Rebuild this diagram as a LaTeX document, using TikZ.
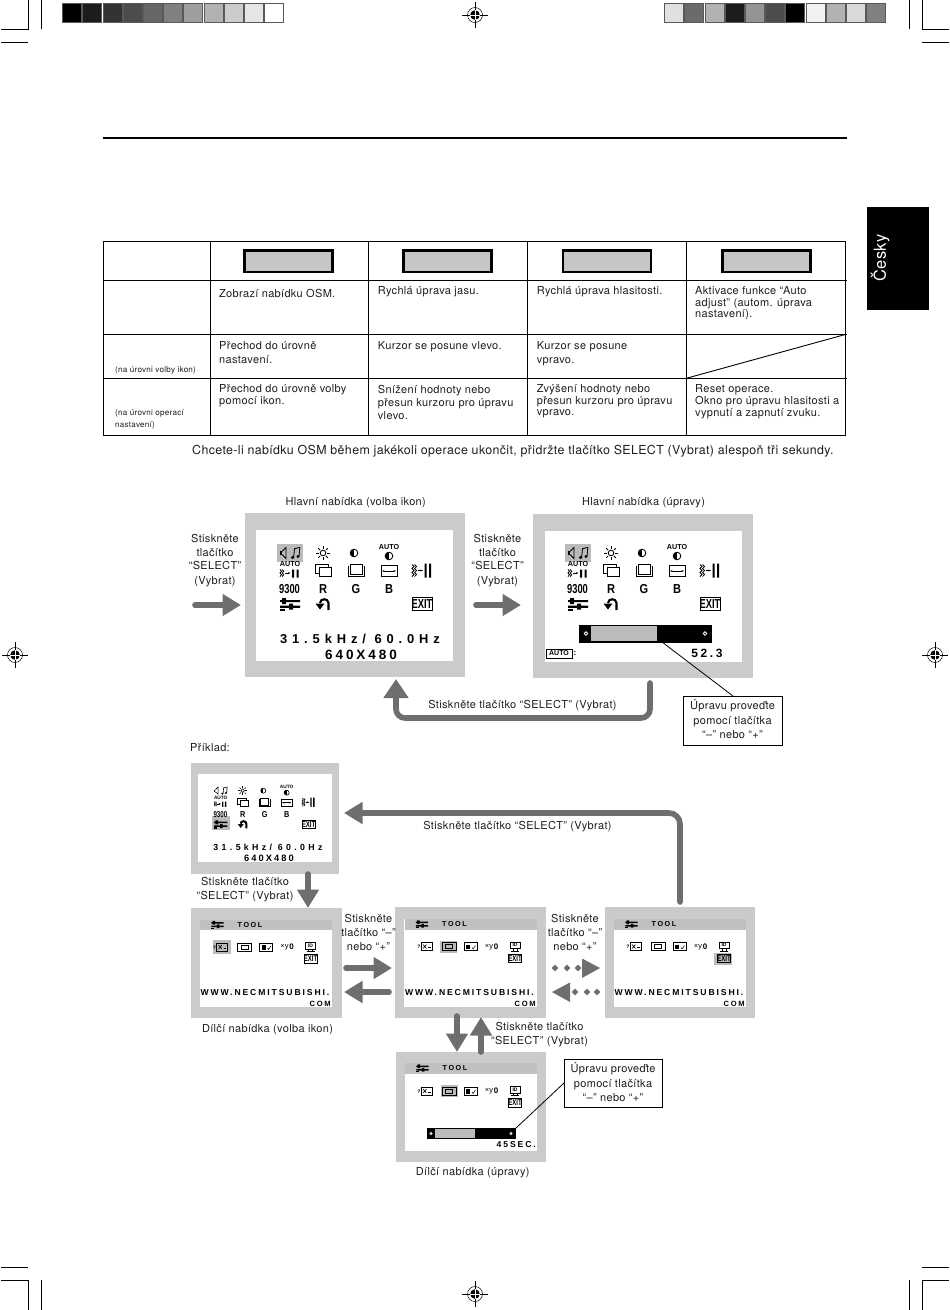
\documentclass[tikz,border=0pt]{standalone}
\usepackage{fontspec}
\setmainfont[LetterSpace=3]{TeX Gyre Heros}
\newfontfamily\lcd[LetterSpace=38]{Liberation Sans}
\newfontfamily\lcdw[LetterSpace=22]{Liberation Sans}
\newfontfamily\icf{Liberation Sans}
\usetikzlibrary{arrows.meta,fit}
\definecolor{frameg}{HTML}{CBCBCB}
\definecolor{hlg}{HTML}{BBBBBB}
\definecolor{arrg}{HTML}{6E6E6E}
\definecolor{btng}{HTML}{C6C6C6}
\definecolor{inkk}{HTML}{1E1E1E}
\tikzset{
 x=1pt,y=-1pt,
 panel/.style={fit={#1},fill=frameg,draw=none,inner sep=0pt},
 inpanel/.style={fit={#1},fill=white,draw=none,inner sep=0pt},
 bigarrow/.style={draw=arrg,line width=5.6pt,line cap=round,-{Triangle[length=18.5pt,width=21pt,fill=arrg]}},
 thin line/.style={draw=black,line width=.8pt},
 tcell/.style={anchor=west,inner sep=0pt,text=inkk,font=\fontsize{11}{12}\selectfont,text height=10pt,text depth=2.5pt},
 tsmall/.style={anchor=west,inner sep=0pt,text=inkk,font=\fontsize{8.1}{9}\selectfont,text height=8pt,text depth=2pt},
 lab/.style={anchor=center,inner sep=0pt,text=inkk,font=\fontsize{11}{12}\selectfont,text height=10pt,text depth=2.5pt},
 btn/.style={fit={#1},fill=btng,draw=black,line width=2.8pt,inner sep=0pt},
 callout/.style={fit={#1},fill=white,draw=black,line width=.9pt,inner sep=0pt},
 ictxt/.style={inner sep=0pt,font=\icf\bfseries\fontsize{13}{14}\selectfont,transform shape},
 icauto/.style={inner sep=0pt,font=\icf\bfseries\fontsize{7.2}{8}\selectfont,transform shape},
 iclcd/.style={inner sep=0pt,font=\lcd\bfseries\fontsize{11.6}{13}\selectfont,transform shape},
 lcdw/.style={inner sep=0pt,font=\lcdw\bfseries\fontsize{7.6}{9}\selectfont,transform shape},
 lcdwide/.style={inner sep=0pt,font=\lcdw\bfseries\fontsize{8.6}{10}\selectfont,transform shape},
 ic/.style={draw=black,line width=\icw},
}
\def\icw{.85pt}
\newcommand{\tc}[4]{\node[tcell] (#1) at (#2,#3) {#4};}
\newcommand{\ts}[4]{\node[tsmall] (#1) at (#2,#3) {#4};}
\newcommand{\lb}[4]{\node[lab] (#1) at (#2,#3) {#4};}
% --- icons; origin is the icon centre
\newcommand{\icSpeak}{
 \fill (-10,-1.6) rectangle (-8,1.6);
 \draw[ic] (-8,-1.6)--(-4,-5.5)--(-4,5.5)--(-8,1.6);
 \draw[ic] (3.6,4.5)--(4.5,-4.5)--(9.8,-5.5)--(9,3.5);
 \fill (2.6,4.5) circle (1.7) (8,3.5) circle (1.7);}
\newcommand{\icSun}{
 \draw[ic] (0,0) circle (2.8);
 \foreach \a in {0,45,...,315}{\draw[ic] (\a:4.2)--(\a:6.8);}}
\newcommand{\icCon}{
 \draw[ic] (0,0) circle (3.8);
 \fill (0,-3.8) .. controls (-5,-3.8) and (-5,3.8) .. (0,3.8) -- cycle;}
\newcommand{\icAutoCon}[1]{
 \node[icauto] (#1-a) at (0,-5.5) {AUTO};
 \begin{scope}[shift={(0,3)}]\icCon\end{scope}}
\newcommand{\icRectA}{
 \draw[ic] (-8,-6) rectangle (5,3);
 \draw[ic,fill=white] (-4,-3) rectangle (8,6);}
\newcommand{\icRectB}{
 \draw[ic] (-8,-5) -- (-8,6) -- (8,6) -- (8,-5);
 \draw[ic] (-6,-6) -- (6,-6) -- (6,4) -- (-6,4) -- cycle;}
\newcommand{\icHsize}{
 \draw[ic] (-8,-5) rectangle (8,6);
 \fill[white] (-9,-1.5) rectangle (9,2);
 \draw[ic] (-8,-1.5)--(-8,2) (8,-1.5)--(8,2);
 \draw[ic,{Stealth[length=2.5pt]}-{Stealth[length=2.5pt]}] (-7,.5)--(7,.5);}
\newcommand{\icWave}{
 \foreach \o in {0,2.6}{\draw[ic] (-10+\o,-6)--(-8+\o,-4)--(-10+\o,-2)--(-8+\o,0)--(-10+\o,2)--(-8+\o,4)--(-10+\o,6);}
 \draw[ic,-{Stealth[length=2.5pt]}] (-4.5,0)--(1,0);
 \fill (2.5,-7) rectangle (4.5,7) (7,-7) rectangle (9,7);}
\newcommand{\icAutoWave}[1]{
 \node[icauto] (#1-w) at (0,-6) {AUTO};
 \foreach \o in {0,2.2}{\draw[ic] (-10+\o,-1)--(-8.5+\o,.8)--(-10+\o,2.5)--(-8.5+\o,4.2)--(-10+\o,6);}
 \draw[ic,-{Stealth[length=2.5pt]}] (-5,2.5)--(.5,2.5);
 \fill (2,-1) rectangle (4,7) (6.5,-1) rectangle (8.5,7);}
\newcommand{\icTool}{
 \fill (-10,-4) rectangle (10,-1.8) (-10,1.6) rectangle (10,3.8);
 \fill (-8,-6) rectangle (-4,0) (-1,-0.5) rectangle (3,5.5);
 \fill (-10,4.5) rectangle (-5,6.5);}
\newcommand{\icRet}{
 \draw[draw=black,line width=2.1pt] (5.5,6)--(5.5,-1) .. controls (5.5,-6) and (-3,-6) .. (-3,-1);
 \fill (-7.5,-.5)--(1.5,-.5)--(-3,5.5)--cycle;}
\newcommand{\icExit}[1]{
 \draw[ic] (-10,-6.5) rectangle (10,6.5);
 \node[ictxt,xscale=.72] (#1-x) at (0,0) {EXIT};}
% --- the main menu icon block; arguments: name, x0, y0, scale, x step
\newcommand{\mainicons}[6]{
\begin{scope}[shift={(#2,#3)},scale=#4]
 \icSpeak
 \begin{scope}[shift={(#5,0)}]\icSun\end{scope}
 \begin{scope}[shift={(2*#5-2,0)}]\icCon\end{scope}
 \begin{scope}[shift={(3*#5,0)}]\icAutoCon{#1}\end{scope}
 \begin{scope}[shift={(0,17.5)}]\icAutoWave{#1}\end{scope}
 \begin{scope}[shift={(#5,17.5)}]\icRectA\end{scope}
 \begin{scope}[shift={(2*#5,17.5)}]\icRectB\end{scope}
 \begin{scope}[shift={(3*#5,17.5)}]\icHsize\end{scope}
 \begin{scope}[shift={(4*#5,17.5)}]\icWave\end{scope}
 \node[ictxt,xscale=.72] (#1-n) at (-.5,36) {9300};
 \node[ictxt,xscale=.85] (#1-r) at (#5,36) {R};
 \node[ictxt,xscale=.85] (#1-g) at (2*#5,36) {G};
 \node[ictxt,xscale=.85] (#1-b) at (3*#5,36) {B};
 \begin{scope}[shift={(0,51)}]\icTool\end{scope}
 \begin{scope}[shift={(#5,51)}]\icRet\end{scope}
 \begin{scope}[shift={(4*#5,51)}]\icExit{#1}\end{scope}
\end{scope}}
% --- tool-menu icons; argument: name, x0, y0
\newcommand{\toolicons}[3]{
\begin{scope}[shift={(#2,#3)}]
 \node[icauto,font=\icf\bfseries\fontsize{5}{6}\selectfont] (#1-q) at (-4,0.5) {?};
 \draw[ic,line width=.6pt] (-2,-4) rectangle (9,4);
 \draw[ic,line width=.6pt] (0,-2)--(3.5,2)(3.5,-2)--(0,2);
 \draw[ic,line width=.5pt] (5,1)--(7.5,1);
 \draw[ic,line width=.7pt] (19,-4) rectangle (33,4);
 \draw[ic,line width=.6pt] (22.5,-2) rectangle (29.5,2);
 \draw[ic,line width=.7pt] (41,-4) rectangle (54,4);
 \fill (43,-2) rectangle (47,2.5);
 \draw[ic,line width=.5pt] (49,1)--(50,2.5)--(52.5,-1);
 \node[inner sep=0pt,font=\icf\fontsize{7.5}{8}\selectfont] (#1-xy) at (66,.5) {×y};
 \node[inner sep=0pt,font=\icf\bfseries\fontsize{8}{9}\selectfont] (#1-xz) at (73.2,.2) {0};
 \draw[ic,line width=.7pt] (87,-4.5) rectangle (97,2);
 \node[inner sep=0pt,font=\icf\bfseries\fontsize{5}{6}\selectfont] (#1-id) at (92,-1.3) {ID};
 \draw[ic,line width=.7pt] (90,2)--(90,4.5) (94,2)--(94,4.5) (88,4.5)--(96,4.5);
 \draw[ic,line width=.7pt] (85.5,7.5) rectangle (98.5,16);
 \node[inner sep=0pt,font=\icf\bfseries\fontsize{8.4}{9}\selectfont,xscale=.72] (#1-x) at (92,11.8) {EXIT};
\end{scope}}
\newcommand{\toolbar}[3]{
 \fill[frameg!85!gray] (#2,#3) rectangle ++(132,10.5);
 \begin{scope}[shift={(#2+17.5,#3+5.2)},scale=.62]\icTool\end{scope}
 \node[lcdw,font=\lcdw\bfseries\fontsize{7.2}{9}\selectfont] (#1-t) at (#2+50,#3+5.5) {TOOL};}
\newcommand{\regmark}[2]{
 \draw[line width=.5pt] (#1-13,#2)--(#1+13,#2) (#1,#2-13)--(#1,#2+13);
 \draw[line width=.5pt] (#1,#2) circle (7.5);
 \fill (#1,#2) circle (4.8);
 \draw[white,line width=1pt] (#1-5,#2)--(#1+5,#2) (#1,#2-5)--(#1,#2+5);}
\begin{document}
\begin{tikzpicture}
\useasboundingbox (0,0) rectangle (950,1310);
\fill[white] (0,0) rectangle (950,1310);
% ---- print marks
\foreach \i/\g in {0/0,1/11,2/20,3/30,4/40,5/50,6/62,7/70,8/80,9/90,10/100}{
 \fill[black!\the\numexpr100-\g\relax,draw=black!65,line width=.8pt] (62.5+\i*20.2,3) rectangle ++(19,19);}
\foreach \i/\g in {0/88,1/42,2/70,3/11,4/58,5/30,6/0,7/95,8/70,9/85,10/50}{
 \fill[black!\the\numexpr100-\g\relax,draw=black!65,line width=.8pt] (664.5+\i*20.2,3) rectangle ++(19,19);}
\regmark{475}{15}\regmark{475}{1294}\regmark{15}{655}\regmark{935}{655}
\draw[line width=.6pt] (28.5,0)--(28.5,29.5)--(1,29.5) (41,0)--(41,29) (1,42)--(28,42)
 (922,0)--(922,29.5)--(949,29.5) (909,0)--(909,29) (922,42)--(949,42)
 (28.5,1310)--(28.5,1280)--(1,1280) (41,1310)--(41,1280) (1,1267)--(28,1267)
 (922,1310)--(922,1280)--(949,1280) (909,1310)--(909,1280) (922,1267)--(949,1267);
\draw[line width=1.1pt] (103,138)--(847,138);
% ---- language tab
\node[fit={(867,207)(929,310)},fill=black,inner sep=0pt] (tab) {};
\node[rotate=90,text=white,inner sep=0pt,font=\fontsize{16.5}{20}\selectfont] (tablabel) at (880,258) {Česky};
% ---- table
\draw[line width=.9pt] (103,241.7) rectangle (845.7,435);
\draw[line width=.9pt] (103,280)--(847,280) (103,334.3)--(847,334.3) (103,378.3)--(847,378.3)
 (210.7,241.7)--(210.7,435) (368.3,241.7)--(368.3,435) (527.3,241.7)--(527.3,435) (686.3,241.7)--(686.3,435);
\draw[line width=.9pt] (686.3,378.3)--(846,334.3);
\node[btn={(244.5,250.5)(332.5,272)}] (b1) {};
\node[btn={(403.5,250.5)(491.5,272)}] (b2) {};
\node[btn={(563,250.5)(651,272)}] (b3) {};
\node[btn={(722.5,250.5)(810.5,272)}] (b4) {};
\tc{c11}{219}{293.3}{Zobrazí nabídku OSM.}
\tc{c12}{377.7}{291}{Rychlá úprava jasu.}
\tc{c13}{536.7}{290.7}{Rychlá úprava hlasitosti.}
\tc{c14a}{695}{290.7}{Aktivace funkce “Auto}
\tc{c14b}{695}{302.3}{adjust” (autom. úprava}
\tc{c14c}{695}{313.3}{nastavení).}
\tc{c21a}{219}{346}{Přechod do úrovně}
\tc{c21b}{219}{360}{nastavení.}
\tc{c22}{377.7}{346}{Kurzor se posune vlevo.}
\tc{c23a}{536.7}{345.7}{Kurzor se posune}
\tc{c23b}{536.7}{359.3}{vpravo.}
\tc{c31a}{219}{389}{Přechod do úrovně volby}
\tc{c31b}{219}{400.7}{pomocí ikon.}
\tc{c32a}{377.7}{389.3}{Snížení hodnoty nebo}
\tc{c32b}{377.7}{402.7}{přesun kurzoru pro úpravu}
\tc{c32c}{377.7}{415.7}{vlevo.}
\tc{c33a}{536.7}{388.7}{Zvýšení hodnoty nebo}
\tc{c33b}{536.7}{400.7}{přesun kurzoru pro úpravu}
\tc{c33c}{536.7}{412}{vpravo.}
\tc{c34a}{695}{388.7}{Reset operace.}
\tc{c34b}{695}{400.7}{Okno pro úpravu hlasitosti a}
\tc{c34c}{695}{412.7}{vypnutí a zapnutí zvuku.}
\ts{s2}{115}{369.3}{(na úrovni volby ikon)}
\ts{s3a}{115}{412.7}{(na úrovni operací}
\ts{s3b}{115}{424.3}{nastavení)}
\node[tcell,font=\fontsize{12.4}{14}\selectfont] (note) at (192,451) {Chcete-li nabídku OSM během jakékoli operace ukončit, přidržte tlačítko SELECT (Vybrat) alespoň tři sekundy.};
% ---- main menu screens
\node[panel={(245,513)(465,677)}] (m1) {};
\node[inpanel={(256,530)(453,661)}] (m1i) {};
\node[panel={(533,514)(753,678)}] (m2) {};
\node[inpanel={(545,531)(742,662)}] (m2i) {};
\fill[hlg] (277,544) rectangle (303,562);
\fill[hlg] (565,544) rectangle (591,562);
\mainicons{ma}{290}{553}{1}{33}{}
\mainicons{mb}{578}{553}{1}{33}{}
\node[iclcd,font=\lcd\bfseries\fontsize{12.9}{14}\selectfont] (m1f) at (360,639) {31.5kHz/ 60.0Hz};
\node[iclcd,font=\lcdw\bfseries\fontsize{13.5}{15}\selectfont] (m1r) at (361,655) {640X480};
% slider of screen 2
\fill[black] (579,625) rectangle (712,643);
\fill[hlg] (591,626) rectangle (657,641);
\draw[white,line width=.8pt] (586,633.5) circle (1.8) (705,633.5) circle (1.8);
\draw[line width=.8pt] (546.5,649) rectangle (572,658);
\node[icauto,font=\icf\bfseries\fontsize{7}{8}\selectfont] (m2a) at (559,653.5) {AUTO};
\node[iclcd,font=\icf\bfseries\fontsize{8}{9}\selectfont] (m2c) at (575,653.5) {:};
\node[inner sep=0pt,font=\lcdw\bfseries\fontsize{12}{13}\selectfont] (m2v) at (707,653.5) {52.3};
\coordinate (sl2) at (662,642);
\node[callout={(683,696)(782,745)}] (call1) {};
\draw[thin line] (sl2) -- (733,696);
\lb{call1a}{732.5}{706}{Úpravu proveďte}
\lb{call1b}{732.5}{720.5}{pomocí tlačítka}
\lb{call1c}{732.5}{734.5}{“–” nebo “+”}
\lb{t1}{355.7}{501.7}{Hlavní nabídka (volba ikon)}
\lb{t2}{643.5}{501.7}{Hlavní nabídka (úpravy)}
\lb{p1a}{215}{538.5}{Stiskněte}
\lb{p1b}{215}{552.5}{tlačítko}
\lb{p1c}{215}{566}{“SELECT”}
\lb{p1d}{215}{580.5}{(Vybrat)}
\lb{p2a}{497.5}{538.5}{Stiskněte}
\lb{p2b}{497.5}{552.5}{tlačítko}
\lb{p2c}{497.5}{566}{“SELECT”}
\lb{p2d}{497.5}{580.5}{(Vybrat)}
\lb{ret}{522.5}{705}{Stiskněte tlačítko “SELECT” (Vybrat)}
\coordinate (a1s) at (195,605); \coordinate (a1e) at (241,605);
\coordinate (a2s) at (476,605); \coordinate (a2e) at (521,605);
\draw[bigarrow] (a1s)--(a1e);
\draw[bigarrow] (a2s)--(a2e);
\coordinate (r1) at (650,683); \coordinate (r2) at (650,718); \coordinate (r3) at (396,718); \coordinate (r4) at (396,679);
\draw[bigarrow,rounded corners=9pt,-{Triangle[length=19pt,width=24pt,fill=arrg]}] (r1)--(r2)--(r3)--(r4);
% ---- example
\node[tcell] (ex) at (190,748) {Příklad:};
\node[panel={(191,763)(339,874)}] (e0) {};
\node[inpanel={(198,774)(332,862)}] (e0i) {};
\fill[hlg] (212,815.5) rectangle (230,830);
\def\icw{.6pt}
\mainicons{me}{220.7}{790.7}{.66}{33.3}{}
\def\icw{.85pt}
\node[iclcd,font=\lcd\bfseries\fontsize{8.8}{10}\selectfont] (e0f) at (268,847) {31.5kHz/ 60.0Hz};
\node[iclcd,font=\lcdw\bfseries\fontsize{9.3}{11}\selectfont] (e0r) at (269,858) {640X480};
% tool screens
\node[panel={(191,908)(341.7,1018)}] (sa) {};
\node[inpanel={(200,920)(332,1007)}] (sai) {};
\node[panel={(395,907)(545.7,1018)}] (sb) {};
\node[inpanel={(404,919)(537,1007)}] (sbi) {};
\node[panel={(605,907)(755,1018)}] (sc) {};
\node[inpanel={(614,919)(746,1007)}] (sci) {};
\node[panel={(396,1052)(546,1162)}] (sd) {};
\node[inpanel={(405,1063)(537,1151)}] (sdi) {};
\toolbar{ta}{200}{919.5}
\toolbar{tb}{404.5}{919}
\toolbar{tc}{614}{919}
\toolbar{td}{405}{1063}
\fill[hlg] (212.5,940) rectangle (230.5,954);
\fill[hlg] (439.5,941) rectangle (457,953);
\fill[hlg] (714,952.5) rectangle (732,964.5);
\fill[hlg] (440.5,1085) rectangle (458,1097);
\toolicons{ia}{218.5}{947}
\toolicons{ib}{423}{946.5}
\toolicons{ic}{632}{946.5}
\toolicons{id}{423}{1091}
\node[lcdwide] (wa) at (265,993) {WWW.NECMITSUBISHI.};
\node[lcdw,anchor=east] (ca) at (331,1003.5) {COM};
\node[lcdwide] (wb) at (469.5,993) {WWW.NECMITSUBISHI.};
\node[lcdw,anchor=east] (cb) at (536,1003.5) {COM};
\node[lcdwide] (wc) at (679,993) {WWW.NECMITSUBISHI.};
\node[lcdw,anchor=east] (cc) at (745,1003.5) {COM};
\fill[black] (427,1128) rectangle (516,1139);
\fill[hlg] (435,1129) rectangle (475,1138);
\draw[white,line width=.6pt] (431,1133.5) circle (1.1) (511,1133.5) circle (1.1);
\node[lcdwide,anchor=east] (dv) at (536,1145) {45SEC.};
\coordinate (sl3) at (516,1128);
\node[callout={(564,1059)(662,1107)}] (call2) {};
\draw[thin line] (sl3) -- (564,1083);
\lb{call2a}{613}{1069}{Úpravu proveďte}
\lb{call2b}{613}{1083.5}{pomocí tlačítka}
\lb{call2c}{613}{1097.5}{“–” nebo “+”}
\lb{q1}{245}{882}{Stiskněte tlačítko}
\lb{q2}{245}{896}{“SELECT” (Vybrat)}
\lb{q3}{267.5}{1029}{Dílčí nabídka (volba ikon)}
\lb{q4}{517.5}{826}{Stiskněte tlačítko “SELECT” (Vybrat)}
\lb{q5a}{368.5}{919}{Stiskněte}
\lb{q5b}{368.5}{933}{tlačítko “–”}
\lb{q5c}{368.5}{947}{nebo “+”}
\lb{q6a}{575}{919}{Stiskněte}
\lb{q6b}{575}{933}{tlačítko “–”}
\lb{q6c}{575}{947}{nebo “+”}
\lb{q7a}{539.5}{1027}{Stiskněte tlačítko}
\lb{q7b}{539.5}{1041}{“SELECT” (Vybrat)}
\lb{q8}{472.7}{1172}{Dílčí nabídka (úpravy)}
% arrows
\coordinate (x1) at (680,902); \coordinate (x2) at (680,813); \coordinate (x3) at (344,813);
\draw[bigarrow,rounded corners=11pt] (x1)--(x2)--(x3);
\coordinate (d1) at (308,874); \coordinate (d2) at (308,908);
\draw[bigarrow] (d1)--(d2);
\coordinate (h1) at (346,968); \coordinate (h2) at (392,968);
\draw[bigarrow] (h1)--(h2);
\coordinate (h3) at (389,992); \coordinate (h4) at (344,992);
\draw[bigarrow] (h3)--(h4);
\coordinate (v1) at (457,1016); \coordinate (v2) at (457,1052);
\draw[bigarrow] (v1)--(v2);
\coordinate (v3) at (481,1052); \coordinate (v4) at (481,1017);
\draw[bigarrow] (v3)--(v4);
% dotted arrows
\foreach \xx in {555,567,578}{\fill[arrg] (\xx-3.4,968)--(\xx,964.6)--(\xx+3.4,968)--(\xx,971.4)--cycle;}
\fill[arrg] (582,958.5)--(600,968)--(582,978)--cycle;
\foreach \xx in {575,587,597}{\fill[arrg] (\xx-3.4,992)--(\xx,988.6)--(\xx+3.4,992)--(\xx,995.4)--cycle;}
\fill[arrg] (570,982.5)--(552,992)--(570,1002)--cycle;
\end{tikzpicture}
\end{document}
